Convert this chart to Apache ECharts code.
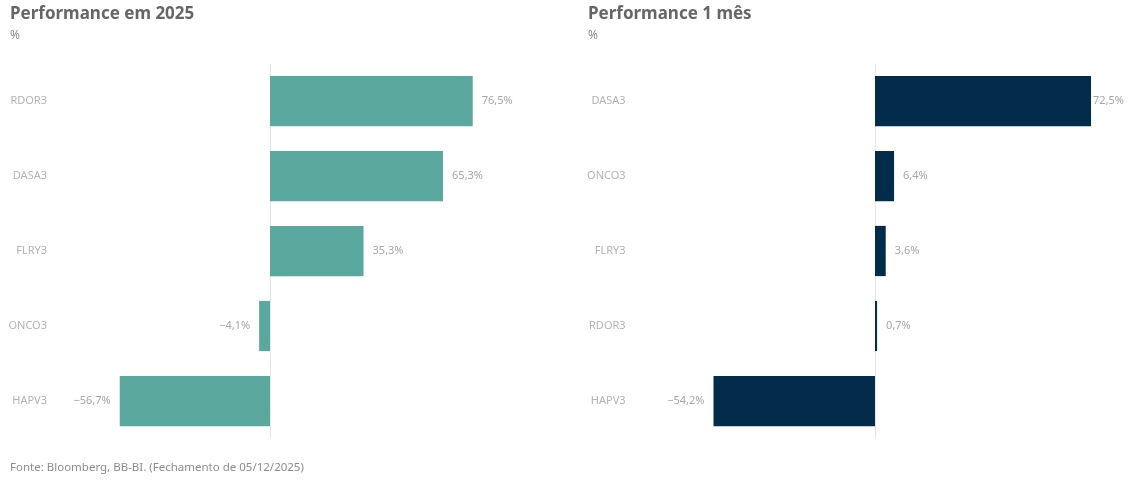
<!DOCTYPE html>
<html>
<head>
<meta charset="utf-8">
<script src="https://cdn.jsdelivr.net/npm/echarts@6/dist/echarts.min.js"></script>
<style>
  html, body { margin: 0; padding: 0; background: #fff; }
  #main { width: 1130px; height: 481px; }
</style>
</head>
<body>
<div id="main"></div>
<script>
// dados
var ano_tickers = ['RDOR3', 'DASA3', 'FLRY3', 'ONCO3', 'HAPV3'];
var ano_valores = [76.5, 65.3, 35.3, -4.1, -56.7];

var mes_tickers = ['DASA3', 'ONCO3', 'FLRY3', 'RDOR3', 'HAPV3'];
var mes_valores = [72.5, 6.4, 3.6, 0.7, -54.2];

var titulos = ['Performance em 2025', 'Performance 1 mês'];
var fonte = 'Fonte: Bloomberg, BB-BI. (Fechamento de 05/12/2025)';

(function(){

    var chart = echarts.init(document.getElementById('main'));
    var fontFamily = '"Noto Sans", "Open Sans", sans-serif';

    function fmt(v) {
        var s = Math.abs(v).toFixed(1).replace('.', ',') + '%';
        return v < 0 ? '\u2212' + s : s;
    }

    function barData(vals, color) {
        return vals.map(function(v, i) {
            var item = {
                value: v,
                label: {
                    position: v < 0 ? 'left' : 'right',
                    distance: 9
                }
            };
            if (color === '#022c4a' && v > 70) item.label.distance = 2;
            return item;
        });
    }

    function serie(idx, vals, color) {
        return {
            type: 'bar',
            xAxisIndex: idx,
            yAxisIndex: idx,
            barCategoryGap: '33%',
            itemStyle: { color: color },
            label: {
                show: true,
                color: '#a6a6a6',
                fontSize: 11,
                fontFamily: fontFamily,
                formatter: function(p) { return fmt(p.value); }
            },
            data: barData(vals, color),
            markLine: {
                silent: true,
                symbol: 'none',
                label: { show: false },
                lineStyle: { color: '#e6e6e6', type: 'solid', width: 1 },
                data: [{ xAxis: 0 }],
                z: 1
            },
            z: 3
        };
    }

    function catAxis(idx, cats) {
        return {
            type: 'category',
            gridIndex: idx,
            data: cats,
            inverse: true,
            axisLine: { show: false },
            axisTick: { show: false },
            axisLabel: {
                color: '#b3b3b3',
                fontSize: 11,
                fontFamily: fontFamily,
                margin: 11
            }
        };
    }

    function valAxis(idx, min, max) {
        return {
            type: 'value',
            gridIndex: idx,
            min: min,
            max: max,
            show: false,
            splitLine: { show: false }
        };
    }

    var option = {
        animation: false,
        title: [
            {
                text: titulos[0], subtext: '%', left: 5, top: 1,
                itemGap: 7,
                textStyle: { color: '#666', fontSize: 17, fontWeight: 'bold', fontFamily: fontFamily },
                subtextStyle: { color: '#8c8c8c', fontSize: 12, fontFamily: fontFamily }
            },
            {
                text: titulos[1], subtext: '%', left: 583, top: 1,
                itemGap: 7,
                textStyle: { color: '#666', fontSize: 17, fontWeight: 'bold', fontFamily: fontFamily },
                subtextStyle: { color: '#8c8c8c', fontSize: 12, fontFamily: fontFamily }
            },
            {
                text: fonte, left: 5, top: 457,
                textStyle: { color: '#8c8c8c', fontSize: 11.5, fontWeight: 'normal', fontFamily: fontFamily }
            }
        ],
        grid: [
            { left: 58, top: 63.5, width: 503.5, height: 375 },
            { left: 636.6, top: 63.5, width: 476.8, height: 375 }
        ],
        xAxis: [
            valAxis(0, -80, 110),
            valAxis(1, -80, 80)
        ],
        yAxis: [
            catAxis(0, ano_tickers),
            catAxis(1, mes_tickers)
        ],
        series: [
            serie(0, ano_valores, '#5ba99e'),
            serie(1, mes_valores, '#022c4a')
        ]
    };

    chart.setOption(option);
})();
</script>
</body>
</html>
